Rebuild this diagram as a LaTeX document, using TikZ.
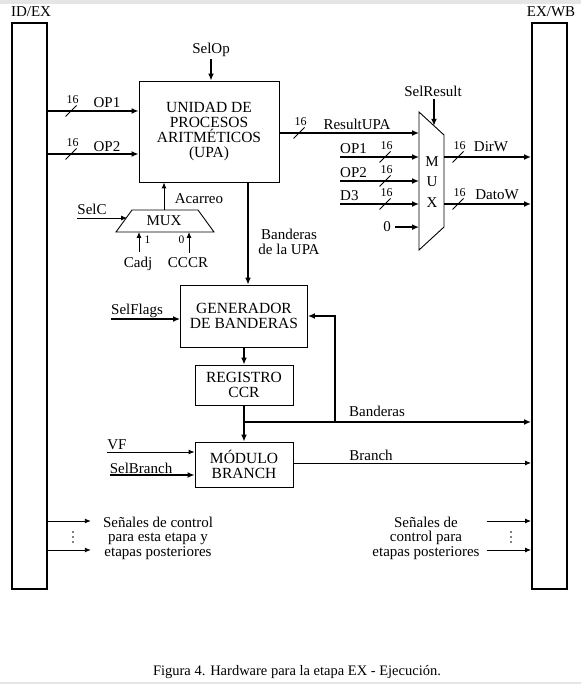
\documentclass[tikz,border=0pt]{standalone}
\usepackage{fontspec}
\setmainfont{Liberation Serif}
\usetikzlibrary{arrows.meta}

\begin{document}
\begin{tikzpicture}[x=1pt,y=-1pt,
    reg/.style={draw, line width=2pt, minimum width=35pt, minimum height=566pt},
    blk/.style={draw, line width=0.9pt, align=center, inner sep=0pt, font=\fontsize{15.5}{15}\selectfont},
    lbl/.style={inner sep=0pt, anchor=base, font=\fontsize{15}{15}\selectfont},
    txt/.style={inner sep=0pt, align=center, font=\fontsize{15}{14.5}\selectfont},
    wd/.style={inner sep=0pt, anchor=base, font=\fontsize{12}{12}\selectfont},
    bus/.style={line width=1.6pt, -{Latex[length=7pt,width=6pt]}},
    sig/.style={line width=0.9pt, -{Latex[length=6pt,width=5pt]}}]
    \useasboundingbox (0,0) rectangle (581,684);
    \fill[gray!20] (0,0) rectangle (581,4);
    \fill[gray!20] (0,682) rectangle (581,684);
    % pipeline registers
    \node[reg] (idex) at (29.5,306) {};
    \node[reg] (exwb) at (549.5,306) {};
    \node[lbl] (idexl) at (31,17) {ID/EX};
    \node[lbl] (exwbl) at (551,17) {EX/WB};
    % blocks
    \node[blk, minimum width=140pt, minimum height=101pt] (upa) at (209,131.5) {UNIDAD DE\\PROCESOS\\ARITMÉTICOS\\(UPA)};
    \node[blk, minimum width=127pt, minimum height=62pt] (gen) at (244,316) {GENERADOR\\DE BANDERAS};
    \node[blk, minimum width=98pt, minimum height=40pt] (ccr) at (244,385) {REGISTRO\\CCR};
    \node[blk, minimum width=98pt, minimum height=45pt] (mod) at (244,464.5) {MÓDULO\\BRANCH};
    % UPA inputs
    \node[lbl] (selop) at (211,54) {SelOp};
    \draw[bus] ([yshift=-2pt]selop.south) -- (upa.north -| selop.south);
    \draw[bus] (idex.east |- 0,111) -- (upa.west |- 0,111);
    \draw[bus] (idex.east |- 0,154) -- (upa.west |- 0,154);
    \node[lbl] (op1) at (107,108) {OP1};
    \node[lbl] (op2) at (107,151.5) {OP2};
    % carry mux
    \draw[line width=0.9pt] (116,232) -- (132,210) -- (198,210) -- (214,232) -- cycle;
    \coordinate (cmtop) at (164,210);
    \coordinate (cmsel) at (127,218);
    \coordinate (cmin1) at (139,232);
    \coordinate (cmin0) at (189,232);
    \node[lbl] (cmux) at (164,226) {MUX};
    \draw[sig] (cmtop) -- (upa.south -| cmtop);
    \node[lbl] (acarreo) at (199,204) {Acarreo};
    \node[lbl] (selc) at (92,215) {SelC};
    \draw[sig] (selc.west |- cmsel) -- (cmsel);
    \node[lbl] (cadj) at (138,267) {Cadj};
    \node[lbl] (cccr) at (188,267) {CCCR};
    \draw[sig] ([yshift=4pt]cadj.north -| cmin1) -- (cmin1);
    \draw[sig] ([yshift=4pt]cccr.north -| cmin0) -- (cmin0);
    \node[wd, font=\fontsize{11.5}{11.5}\selectfont] (in1) at (147.5,243.5) {1};
    \node[wd, font=\fontsize{11.5}{11.5}\selectfont] (in0) at (181.5,243.5) {0};
    % flags from the UPA
    \draw[bus] (upa.south -| 248,0) -- (gen.north -| 248,0);
    \node[txt] (bupa) at (289,242) {Banderas\\de la UPA};
    % result mux
    \coordinate (rmA) at (419,112);
    \coordinate (rmB) at (444,135);
    \coordinate (rmC) at (444,227);
    \coordinate (rmD) at (419,250);
    \coordinate (rmsel) at (434,125.8);
    \draw[line width=0.9pt] (rmA) -- (rmB) -- (rmC) -- (rmD) -- cycle;
    \node[txt, font=\fontsize{15}{20.5}\selectfont] (rmux) at (432,182) {M\\U\\X};
    \node[lbl] (selres) at (433,97) {SelResult};
    \draw[bus] ([yshift=-2pt]selres.south -| rmsel) -- (rmsel);
    \draw[bus] (upa.east |- 0,133) -- (rmA |- 0,133);
    \node[lbl] (resupa) at (357,130) {ResultUPA};
    \foreach \y/\t in {157/OP1, 181/OP2, 204/D3} {
        \draw[bus] (340,\y) -- (rmA |- 0,\y);
        \node[lbl, anchor=base west] at (340,\y-3.5) {\t};
    }
    \node[lbl] (zero) at (387,232) {0};
    \draw[bus] ([xshift=4pt]zero.east) -- (rmA |- zero.east);
    \draw[bus] (rmB |- 0,157) -- (exwb.west |- 0,157);
    \draw[bus] (rmB |- 0,204) -- (exwb.west |- 0,204);
    \node[lbl] (dirw) at (491,152) {DirW};
    \node[lbl] (datow) at (497,200) {DatoW};
    % bus widths
    \foreach \x/\y in {71/111, 71/154, 299/133, 385/157, 385/181, 385/204, 458/157, 458/204} {
        \draw[line width=0.8pt] (\x-5.5,\y+5.5) -- (\x+5.5,\y-5.5);
        \node[wd] at (\x+1.5,\y-7.5) {16};
    }
    % flags
    \node[lbl] (selflags) at (137,314) {SelFlags};
    \draw[bus] (selflags.west |- 0,319) -- (gen.west |- 0,319);
    \draw[bus] (gen.south) -- (ccr.north);
    \draw[bus] (ccr.south) -- (mod.north);
    \coordinate (bj) at (ccr.south |- 0,422);
    \coordinate (fb) at (335,422);
    \draw[bus] (bj) -- (exwb.west |- bj);
    \draw[bus] (fb) |- (gen.east);
    \node[lbl] (band) at (377,416) {Banderas};
    % branch
    \node[lbl] (vf) at (117,449) {VF};
    \node[lbl] (selbr) at (141,473) {SelBranch};
    \draw[sig] (vf.west |- 0,452) -- (mod.west |- 0,452);
    \draw[bus] (selbr.west |- 0,475) -- (mod.west |- 0,475);
    \draw[sig] (mod.east |- 0,463) -- (exwb.west |- 0,463);
    \node[lbl] (branch) at (371,460) {Branch};
    % control signals
    \node[txt] (ctlL) at (158,538) {Señales de control\\para esta etapa y\\etapas posteriores};
    \node[txt] (ctlR) at (426,538) {Señales de\\control para\\etapas posteriores};
    \draw[sig] (idex.east |- 0,521) -- ([xshift=-12pt]ctlL.west |- 0,521);
    \draw[sig] (idex.east |- 0,550) -- ([xshift=-12pt]ctlL.west |- 0,550);
    \draw[sig] ([xshift=7pt]ctlR.east |- 0,521) -- (exwb.west |- 0,521);
    \draw[sig] ([xshift=7pt]ctlR.east |- 0,550) -- (exwb.west |- 0,550);
    \foreach \y in {532,537,542} {
        \fill (73,\y) circle (0.9pt);
        \fill (511,\y) circle (0.9pt);
    }
    \node[lbl, font=\fontsize{14.5}{15}\selectfont] (caption) at (297,675) {Figura 4. Hardware para la etapa EX - Ejecución.};
\end{tikzpicture}
\end{document}
